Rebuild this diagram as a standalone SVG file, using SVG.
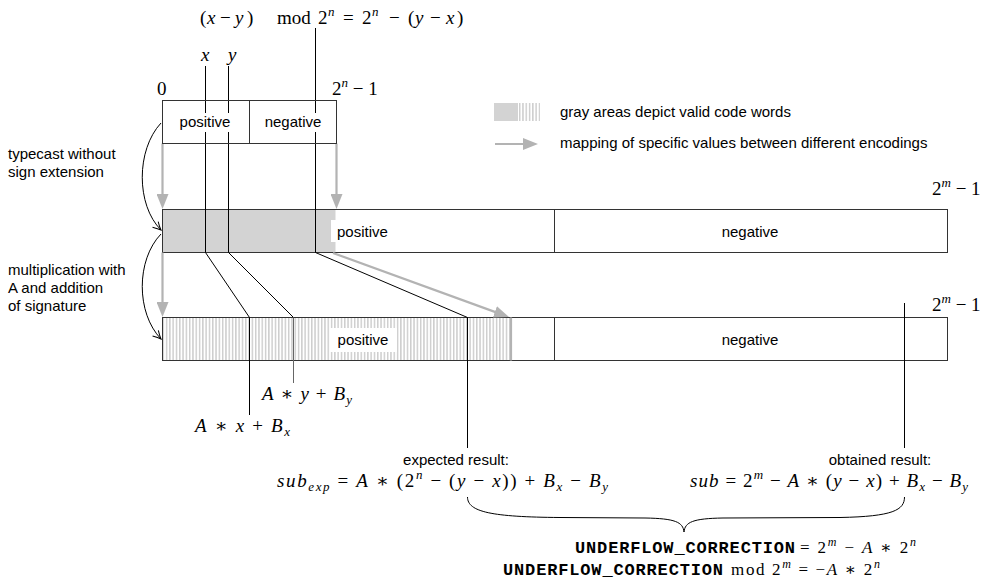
<svg xmlns="http://www.w3.org/2000/svg" width="989" height="580" viewBox="0 0 989 580">
<defs>
<style>
.m{font-family:"Liberation Serif","DejaVu Serif",serif;font-size:19px;fill:#000}
.m2{font-family:"Liberation Serif","DejaVu Serif",serif;font-size:17px;fill:#000}
.i{font-style:italic}
.s{font-size:13px}
.s2{font-size:12px}
.l{font-family:"Liberation Sans",Arial,sans-serif;font-size:15px;fill:#000}
.tt{font-family:"Liberation Mono","DejaVu Sans Mono",monospace;font-weight:bold;font-size:17px;fill:#000}
.box{fill:none;stroke:#333;stroke-width:1}
.ln{fill:none;stroke:#000;stroke-width:1}
.ga{fill:none;stroke:#b3b3b3;stroke-width:2.2;marker-end:url(#gh)}
.ca{fill:none;stroke:#000;stroke-width:1;marker-end:url(#bh)}
</style>
<pattern id="hatch" patternUnits="userSpaceOnUse" width="3.3" height="10"><rect width="3.3" height="10" fill="#fff"/><line x1="1.6" y1="0" x2="1.6" y2="10" stroke="#8c8c8c" stroke-width="0.7"/></pattern>
<marker id="gh" markerUnits="userSpaceOnUse" viewBox="0 0 15 12" refX="5" refY="6" markerWidth="15" markerHeight="12" orient="auto"><path d="M0,0 L15,6 L0,12 z" fill="#b3b3b3"/></marker>
<marker id="bh" markerUnits="userSpaceOnUse" viewBox="-9 -5 10 10" refX="0" refY="0" markerWidth="10" markerHeight="10" orient="auto"><path d="M-8,-4 Q-3,-1 0,0 Q-3,1 -8,4" fill="none" stroke="#000" stroke-width="1"/></marker>
</defs>
<rect width="989" height="580" fill="#fff"/>

<!-- top formula and labels -->
<g id="top-labels">
<text class="m" y="24"><tspan x="200">(</tspan><tspan x="207" class="i">x</tspan><tspan x="220">−</tspan><tspan x="235" class="i">y</tspan><tspan x="247">)</tspan><tspan x="277">mod</tspan><tspan x="318">2</tspan><tspan x="328" y="16" class="s i">n</tspan><tspan x="343" y="24">=</tspan><tspan x="362">2</tspan><tspan x="372" y="16" class="s i">n</tspan><tspan x="389" y="24">−</tspan><tspan x="408">(</tspan><tspan x="415" class="i">y</tspan><tspan x="430">−</tspan><tspan x="446" class="i">x</tspan><tspan x="457">)</tspan></text>
<text class="m i" x="201" y="61">x</text>
<text class="m i" x="228" y="61">y</text>
<text class="m" x="157" y="95">0</text>
<text class="m" x="332" y="95" xml:space="preserve">2<tspan class="s i" dy="-8">n</tspan><tspan dy="8"> − 1</tspan></text>
</g>

<!-- legend -->
<g id="legend">
<rect x="494" y="103" width="24" height="18" fill="#d3d3d3"/>
<rect x="518" y="103" width="22" height="18" fill="url(#hatch)"/>
<text class="l" x="560" y="117">gray areas depict valid code words</text>
<line x1="495" y1="144" x2="528" y2="144" class="ga"/>
<text class="l" x="560" y="148">mapping of specific values between different encodings</text>
</g>

<!-- left annotations -->
<g id="side-labels">
<text class="l" x="8" y="159">typecast without</text>
<text class="l" x="8" y="177">sign extension</text>
<text class="l" x="8" y="275">multiplication with</text>
<text class="l" x="8" y="293">A and addition</text>
<text class="l" x="8" y="311">of signature</text>
</g>

<!-- middle bar (m-bit after typecast) -->
<g id="mid">
<rect x="162.5" y="209.5" width="785" height="43" fill="#fff"/>
<rect x="162.5" y="209.5" width="173" height="43" fill="#d3d3d3"/>
<rect x="331" y="220" width="60" height="22" fill="#fff"/>
<rect x="162.5" y="209.5" width="785" height="43" class="box"/>
<line x1="554.5" y1="209.5" x2="554.5" y2="252.5" stroke="#333"/>
<text class="l" x="337" y="237">positive</text>
<text class="l" x="750" y="237" text-anchor="middle">negative</text>
<text class="m" x="932" y="195" xml:space="preserve">2<tspan class="s i" dy="-8">m</tspan><tspan dy="8"> − 1</tspan></text>
</g>

<!-- bottom bar (encoded) -->
<g id="dst">
<rect x="162.5" y="317.5" width="785" height="43" fill="#fff"/>
<rect x="162.5" y="317.5" width="348.5" height="43" fill="url(#hatch)"/>
<rect x="330" y="328" width="67" height="24" fill="#fff"/>
<rect x="162.5" y="317.5" width="785" height="43" class="box"/>
<line x1="554.5" y1="317.5" x2="554.5" y2="360.5" stroke="#333"/>
<line x1="511" y1="317.5" x2="511" y2="360.5" stroke="#b3b3b3" stroke-width="2.2"/>
<text class="l" x="363" y="345" text-anchor="middle">positive</text>
<text class="l" x="750" y="345" text-anchor="middle">negative</text>
<text class="m" x="932" y="311" xml:space="preserve">2<tspan class="s i" dy="-8">m</tspan><tspan dy="8"> − 1</tspan></text>
</g>

<!-- connectors -->
<g id="connectors">
<path class="ln" d="M205.5,66 V252.5 L249.5,317.5 V415"/>
<path class="ln" d="M228.5,66 V252.5 L293.5,317.5"/>
<path d="M293.5,317.5 V383" fill="none" stroke="#666" stroke-width="1"/>
<path class="ln" d="M315.5,28 V252.5 L467.5,317.5 V448"/>
<path class="ln" d="M904.5,303 V448"/>
<line class="ga" x1="162.5" y1="143.5" x2="162.5" y2="199"/>
<line class="ga" x1="336.5" y1="143.5" x2="336.5" y2="199"/>
<line class="ga" x1="162.5" y1="252.5" x2="162.5" y2="307"/>
<line class="ga" x1="333" y1="253" x2="499.6" y2="313.6"/>
<path class="ca" d="M161,123 C136,150 136,205 161,230"/>
<path class="ca" d="M161,234 C136,260 136,313 161,339"/>
<path class="ln" d="M467.5,497 C467.5,512 492,517 560,517.5 L645,518 C675,518.5 683,522 684,532 C685,522 693,518.5 723,518 L840,517.5 C893,516.5 904.5,510 904.5,497"/>
</g>

<!-- source box (n-bit), drawn over the lines so its labels interrupt them -->
<g id="src">
<rect x="162.5" y="100.5" width="174" height="43" fill="none" stroke="#333"/>
<line x1="249.5" y1="100.5" x2="249.5" y2="143.5" stroke="#333"/>
<rect x="177" y="113" width="56" height="19" fill="#fff"/>
<rect x="264" y="113" width="58" height="19" fill="#fff"/>
<text class="l" x="205" y="127" text-anchor="middle">positive</text>
<text class="l" x="293" y="127" text-anchor="middle">negative</text>
</g>

<!-- result labels -->
<g id="value-labels">
<text class="m" x="262" y="400" textLength="90" xml:space="preserve"><tspan class="i">A</tspan> ∗ <tspan class="i">y</tspan> + <tspan class="i">B</tspan><tspan class="s i" dy="4">y</tspan></text>
<text class="m" x="195" y="432" textLength="95" xml:space="preserve"><tspan class="i">A</tspan> ∗ <tspan class="i">x</tspan> + <tspan class="i">B</tspan><tspan class="s i" dy="4">x</tspan></text>
</g>

<g id="expected">
<text class="l" x="456" y="465" text-anchor="middle">expected result:</text>
<text class="m" x="277" y="487" textLength="331" xml:space="preserve"><tspan class="i">sub</tspan><tspan class="s i" dy="4">exp</tspan><tspan dy="-4"> = </tspan><tspan class="i">A</tspan> ∗ (2<tspan class="s i" dy="-8">n</tspan><tspan dy="8"> − (</tspan><tspan class="i">y</tspan> − <tspan class="i">x</tspan>)) + <tspan class="i">B</tspan><tspan class="s i" dy="4">x</tspan><tspan dy="-4"> − </tspan><tspan class="i">B</tspan><tspan class="s i" dy="4">y</tspan></text>
</g>

<g id="obtained">
<text class="l" x="880" y="465" text-anchor="middle">obtained result:</text>
<text class="m" x="690" y="487" textLength="278" xml:space="preserve"><tspan class="i">sub</tspan> = 2<tspan class="s i" dy="-8">m</tspan><tspan dy="8"> − </tspan><tspan class="i">A</tspan> ∗ (<tspan class="i">y</tspan> − <tspan class="i">x</tspan>) + <tspan class="i">B</tspan><tspan class="s i" dy="4">x</tspan><tspan dy="-4"> − </tspan><tspan class="i">B</tspan><tspan class="s i" dy="4">y</tspan></text>
</g>

<g id="correction">
<text class="tt" x="575" y="553" textLength="220">UNDERFLOW_CORRECTION</text>
<text class="m2" x="800" y="553" textLength="116" xml:space="preserve">= 2<tspan class="s2 i" dy="-7">m</tspan><tspan dy="7"> − </tspan><tspan class="i">A</tspan> ∗ 2<tspan class="s2 i" dy="-7">n</tspan></text>
<text class="tt" x="503" y="575" textLength="220">UNDERFLOW_CORRECTION</text>
<text class="m2" x="731" y="575" textLength="149" xml:space="preserve">mod 2<tspan class="s2 i" dy="-7">m</tspan><tspan dy="7"> = −</tspan><tspan class="i">A</tspan> ∗ 2<tspan class="s2 i" dy="-7">n</tspan></text>
</g>
</svg>
